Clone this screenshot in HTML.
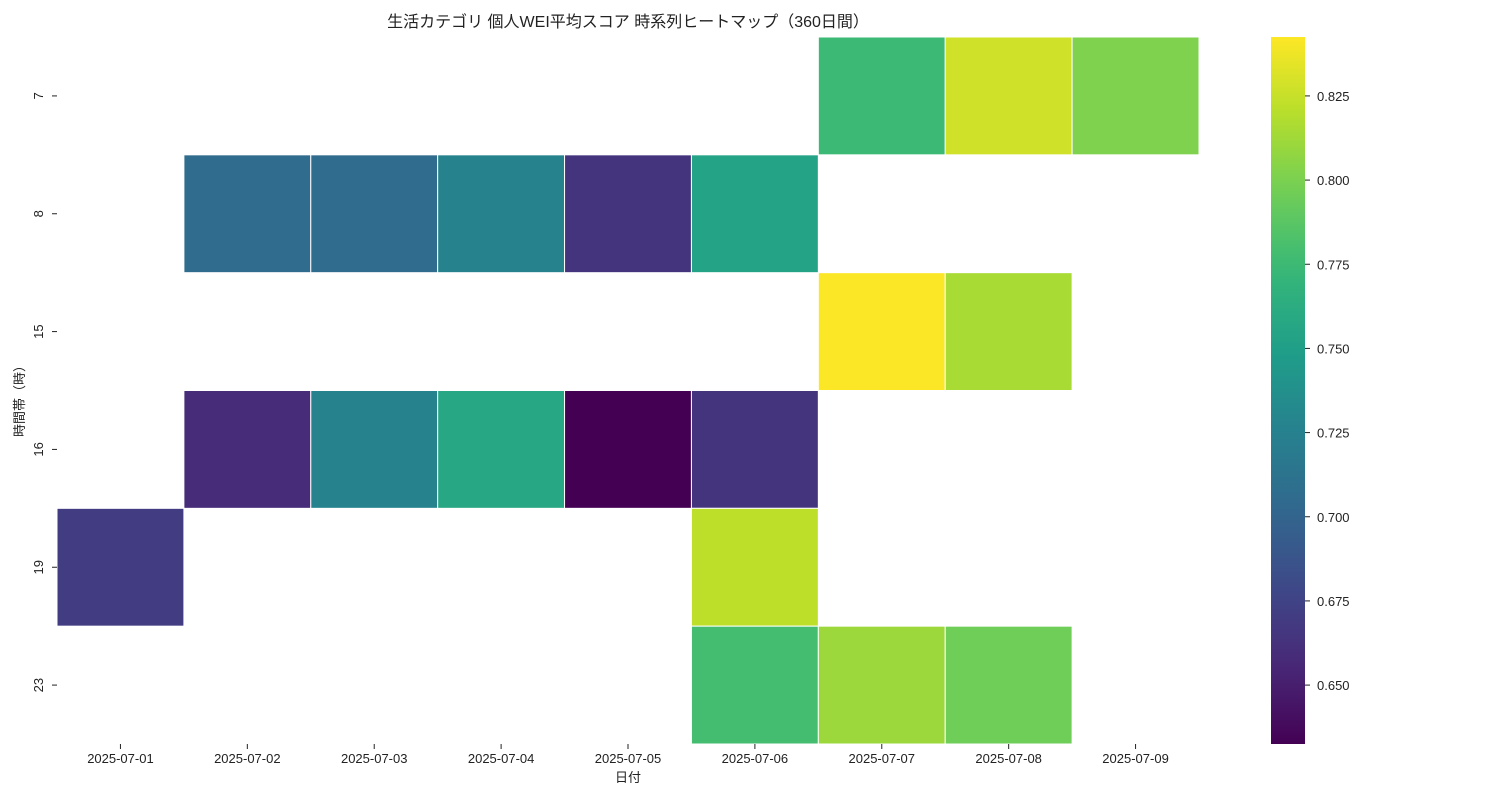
<!DOCTYPE html>
<html><head><meta charset="utf-8"><style>
body{margin:0;background:#fff;}
svg text{font-family:"Liberation Sans","Noto Sans CJK JP",sans-serif;fill:#222;}
</style></head><body>
<svg width="1500" height="800" xmlns="http://www.w3.org/2000/svg">
<defs><linearGradient id="cbg" x1="0" y1="1" x2="0" y2="0"></linearGradient></defs>
<text x="628" y="27" text-anchor="middle" font-size="16">生活カテゴリ 個人WEI平均スコア 時系列ヒートマップ（360日間）</text>
<g id="cells"></g>
<g id="xax"></g>
<g id="yax"></g>
<text x="628" y="782" text-anchor="middle" font-size="13">日付</text>
<text transform="translate(24,398) rotate(-90)" text-anchor="middle" font-size="13">時間帯（時）</text>
<rect x="1271" y="37" width="34" height="707" fill="url(#cbg)"/>
<g id="cbax"></g>
</svg>
<script>
const dates=["2025-07-01","2025-07-02","2025-07-03","2025-07-04","2025-07-05","2025-07-06","2025-07-07","2025-07-08","2025-07-09"];
const hours=["7","8","15","16","19","23"];
const row7=[null,null,null,null,null,null,0.775,0.828,0.801];
const row8=[null,0.706,0.706,0.727,0.664,0.754,null,null,null];
const row15=[null,null,null,null,null,null,0.842,0.815,null];
const row16=[null,0.659,0.727,0.758,0.6325,0.664,null,null,null];
const row19=[0.670,null,null,null,null,0.822,null,null,null];
const row23=[null,null,null,null,null,0.779,0.811,0.796,null];
const cbTicks=[0.650,0.675,0.700,0.725,0.750,0.775,0.800,0.825];
const vmin=0.6325, vmax=0.8425;
const rows=[row7,row8,row15,row16,row19,row23];
const VIR=["#440154","#482878","#3e4989","#31688e","#26828e","#1f9e89","#35b779","#6ece58","#b5de2b","#fde725"];
function hex(c){return[1,3,5].map(i=>parseInt(c.substr(i,2),16));}
function viridis(t){t=Math.max(0,Math.min(1,t));const p=t*(VIR.length-1),i=Math.min(VIR.length-2,Math.floor(p)),f=p-i;const a=hex(VIR[i]),b=hex(VIR[i+1]);return "rgb("+a.map((v,k)=>Math.round(v+(b[k]-v)*f)).join(",")+")";}
const X0=57,X1=1199,Y0=37,Y1=744;
const cw=(X1-X0)/dates.length, ch=(Y1-Y0)/hours.length;
const xs=i=>X0+i*cw, ys=j=>Y0+j*ch;
const cbY=v=>Y1-(v-vmin)/(vmax-vmin)*(Y1-Y0);
const NS="http://www.w3.org/2000/svg";
function mk(tag,attrs,parent){const e=document.createElementNS(NS,tag);for(const k in attrs)e.setAttribute(k,attrs[k]);parent.appendChild(e);return e;}
const cells=document.getElementById('cells');
rows.forEach((r,j)=>r.forEach((v,i)=>{if(v==null)return;
 const e=mk('rect',{x:xs(i),y:ys(j),width:cw,height:ch,fill:viridis((v-vmin)/(vmax-vmin)),stroke:"#fff","stroke-width":1},cells);
 
 }));
const xax=document.getElementById('xax');
dates.forEach((d,i)=>{const cx=xs(i)+cw/2;
 const l=mk('line',{x1:cx,x2:cx,y1:744,y2:749,stroke:"#222"},xax);
 
 
 const t=mk('text',{x:cx,y:763,"text-anchor":"middle","font-size":13},xax);t.textContent=d;
 
 });
const yax=document.getElementById('yax');
hours.forEach((h,j)=>{const cy=ys(j)+ch/2;
 const l=mk('line',{x1:52,x2:57,y1:cy,y2:cy,stroke:"#222"},yax);
 
 
 const t=mk('text',{transform:`translate(43,${cy}) rotate(-90)`,"text-anchor":"middle","font-size":13},yax);t.textContent=h;
 
 });
const g=document.getElementById('cbg');
for(let k=0;k<=20;k++){mk('stop',{offset:k/20,"stop-color":viridis(k/20)},g);}
const cb=document.getElementById('cbax');
cbTicks.forEach(v=>{const y=cbY(v);
 const l=mk('line',{x1:1305,x2:1310,y1:y,y2:y,stroke:"#222"},cb);
 
 
 const t=mk('text',{x:1317,y:y+5,"font-size":13},cb);t.textContent=v.toFixed(3);
 
 });
</script>
</body></html>
